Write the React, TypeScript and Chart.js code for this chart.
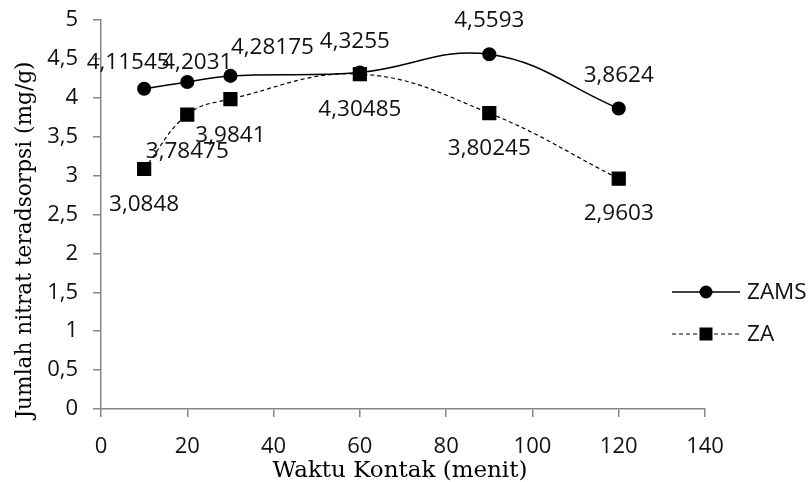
import React, { useEffect, useRef } from "react";
import { Chart, registerables } from "chart.js";

Chart.register(...registerables);

const times = [10, 20, 30, 60, 90, 120];
const zamsValues = [4.11545, 4.2031, 4.28175, 4.3255, 4.5593, 3.8624];
const zaValues = [3.0848, 3.78475, 3.9841, 4.30485, 3.80245, 2.9603];
const seriesNames = ["ZAMS", "ZA"];
const xTitle = "Waktu Kontak (menit)";
const yTitle = "Jumlah nitrat teradsorpsi (mg/g)";

const SANS = "'Open Sans', sans-serif";
const SERIF = "'DejaVu Serif', serif";
const AXIS_GREY = "#868686";
const TEXT = "#111";

const fmt = (v: number) => String(v).replace(".", ",");

// label placement nudges (style only)
const labelStyle = {
  zams: { dx: [-16, 10, 42, -5, 0, 0], dy: [-26, -19, -28, -31, -34, -33] },
  za: { dx: [0, 0, 0, 0, 0, 0], dy: [36, 37, 37, 36, 35, 35] },
};

const dataLabelPlugin = {
  id: "dataLabels",
  afterDatasetsDraw(chart: any) {
    const ctx = chart.ctx;
    ctx.save();
    ctx.font = `22.5px ${SANS}`;
    ctx.fillStyle = TEXT;
    ctx.textAlign = "center";
    ctx.textBaseline = "middle";
    chart.data.datasets.forEach((ds: any, di: number) => {
      const meta = chart.getDatasetMeta(di);
      const st = ds.label === "ZAMS" ? labelStyle.zams : labelStyle.za;
      meta.data.forEach((el: any, i: number) => {
        const v = ds.data[i].y;
        ctx.fillText(fmt(v), el.x + st.dx[i], el.y + st.dy[i]);
      });
    });
    ctx.restore();
  },
};

const axisTitlePlugin = {
  id: "axisTitles",
  afterDraw(chart: any) {
    const ctx = chart.ctx;
    const ca = chart.chartArea;
    ctx.save();
    ctx.fillStyle = "#000";
    ctx.textAlign = "center";
    ctx.textBaseline = "alphabetic";
    ctx.font = `23px ${SERIF}`;
    ctx.fillText(xTitle, (ca.left + ca.right) / 2 - 3, ca.bottom + 68);
    ctx.translate(31, ca.bottom - 169);
    ctx.rotate(-Math.PI / 2);
    ctx.font = `21.7px ${SERIF}`;
    ctx.fillText(yTitle, 0, 0);
    ctx.restore();
  },
};

const legendPlugin = {
  id: "customLegend",
  afterDraw(chart: any) {
    const ctx = chart.ctx;
    const x0 = chart.chartArea.right - 33;
    const x1 = x0 + 68;
    const xm = x0 + 34;
    const rows = [
      { y: 292, dash: [] as number[], style: "circle" },
      { y: 334, dash: [4, 3], style: "rect" },
    ];
    ctx.save();
    rows.forEach((r, i) => {
      ctx.beginPath();
      ctx.setLineDash(r.dash);
      ctx.strokeStyle = "#000";
      ctx.lineWidth = i === 0 ? 1.5 : 1.2;
      ctx.moveTo(x0, r.y);
      ctx.lineTo(x1, r.y);
      ctx.stroke();
      ctx.setLineDash([]);
      ctx.fillStyle = "#000";
      if (r.style === "circle") {
        ctx.beginPath();
        ctx.arc(xm, r.y, 6.5, 0, Math.PI * 2);
        ctx.fill();
      } else {
        ctx.fillRect(xm - 6.5, r.y - 6.5, 13, 13);
      }
      ctx.font = `22.5px ${SANS}`;
      ctx.textAlign = "left";
      ctx.textBaseline = "middle";
      ctx.fillStyle = TEXT;
      ctx.fillText(seriesNames[i], x1 + 7, r.y + 1);
    });
    ctx.restore();
  },
};

export default function App() {
  const ref = useRef<HTMLCanvasElement>(null);
  useEffect(() => {
    if (!ref.current) return;
    const chart = new Chart(ref.current, {
      type: "line",
      data: {
        datasets: [
          {
            label: seriesNames[0],
            data: times.map((t, i) => ({ x: t, y: zamsValues[i] })),
            borderColor: "#000",
            backgroundColor: "#000",
            borderWidth: 1.5,
            pointStyle: "circle",
            pointRadius: 6.3,
            pointHoverRadius: 6.3,
            tension: 0.4,
            order: 1,
          },
          {
            label: seriesNames[1],
            data: times.map((t, i) => ({ x: t, y: zaValues[i] })),
            borderColor: "#000",
            backgroundColor: "#000",
            borderWidth: 1.2,
            borderDash: [4, 3],
            pointStyle: "rect",
            pointRadius: 9.2,
            pointHoverRadius: 9.2,
            tension: 0.4,
            order: 0,
          },
        ],
      },
      options: {
        animation: false,
        responsive: false,
        layout: { padding: { top: 20, right: 106, left: 0, bottom: 0 } },
        plugins: { legend: { display: false }, tooltip: { enabled: false } },
        scales: {
          x: {
            type: "linear",
            min: 0,
            max: 140,
            ticks: {
              stepSize: 20,
              color: TEXT,
              font: { family: SANS, size: 22 },
              padding: 17,
              maxRotation: 0,
            },
            grid: { drawOnChartArea: false, drawTicks: true, tickLength: 8, color: AXIS_GREY, lineWidth: 1.5 },
            border: { display: true, color: AXIS_GREY, width: 1.5 },
            afterFit: (s: any) => {
              s.height = 73;
            },
          },
          y: {
            min: 0,
            max: 5,
            ticks: {
              stepSize: 0.5,
              color: TEXT,
              font: { family: SANS, size: 22 },
              padding: 15,
              callback: (v: any) => fmt(Number(v)),
            },
            grid: { drawOnChartArea: false, drawTicks: true, tickLength: 8, color: AXIS_GREY, lineWidth: 1.5 },
            border: { display: true, color: AXIS_GREY, width: 1.5 },
            afterFit: (s: any) => {
              s.width = 101;
              s.paddingTop = 0;
              s.paddingBottom = 0;
            },
          },
        },
      },
      plugins: [dataLabelPlugin, axisTitlePlugin, legendPlugin],
    } as any);
    return () => chart.destroy();
  }, []);
  return (
    <div style={{ position: "fixed", left: 0, top: 0, width: 811, height: 482, background: "#fff" }}>
      <canvas ref={ref} width={811} height={482} />
    </div>
  );
}
